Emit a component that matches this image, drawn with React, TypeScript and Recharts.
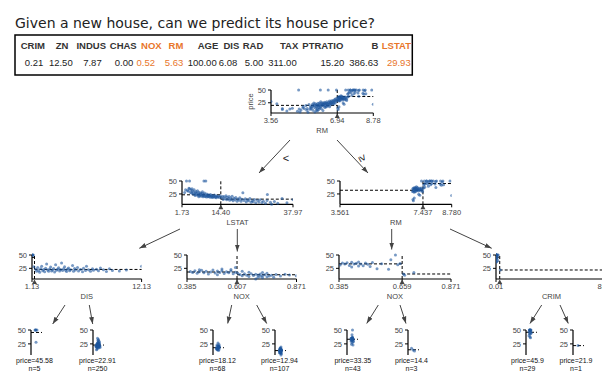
import React from 'react';
import { ScatterChart, Scatter, XAxis, YAxis, ReferenceLine, ReferenceDot } from 'recharts';

type Pt = [number, number];

// house we want to predict (header row + values)
const FEATURES = ['CRIM', 'ZN', 'INDUS', 'CHAS', 'NOX', 'RM', 'AGE', 'DIS', 'RAD', 'TAX', 'PTRATIO', 'B', 'LSTAT'];
const VALUES = ['0.21', '12.50', '7.87', '0.00', '0.52', '5.63', '100.00', '6.08', '5.00', '311.00', '15.20', '386.63', '29.93'];
const HIGHLIGHT = ['NOX', 'RM', 'LSTAT'];

// root: RM vs price, split at 6.94
const rmLow: Pt[] = [
  [3.56, 27.5], [3.86, 23.1], [4.14, 13.8], [4.14, 11.9], [4.37, 8.8], [4.52, 12.8], [4.65, 14.4], [4.91, 8.5],
  [4.97, 50], [5.0, 13.0], [5.04, 7.0], [5.09, 11.0], [5.19, 15.5], [5.27, 13.5], [5.34, 19.5], [5.39, 10.2],
  [5.41, 14.0], [5.45, 6.3], [5.5, 21.5], [5.57, 17.0], [5.6, 13.3], [5.63, 15.1], [5.65, 18.2], [5.68, 22.0],
  [5.7, 10.5], [5.72, 19.8], [5.76, 16.1], [5.79, 20.4], [5.8, 7.2], [5.83, 23.1], [5.85, 14.5], [5.87, 19.3],
  [5.89, 21.7], [5.9, 17.2], [5.93, 12.7], [5.95, 20.0], [5.96, 23.9], [5.99, 18.5], [6.0, 15.6], [6.02, 21.2],
  [6.04, 24.4], [6.06, 19.1], [6.08, 50], [6.1, 22.6], [6.12, 17.5], [6.13, 13.1], [6.15, 20.8], [6.17, 24.8],
  [6.19, 19.6], [6.2, 22.2], [6.21, 9.7], [6.23, 25.0], [6.25, 21.4], [6.27, 18.9], [6.29, 23.4], [6.31, 26.2],
  [6.33, 20.3], [6.35, 22.9], [6.37, 16.7], [6.39, 24.1], [6.41, 27.1], [6.43, 21.0], [6.45, 23.7], [6.47, 19.4],
  [6.48, 50], [6.5, 25.3], [6.52, 22.0], [6.54, 28.4], [6.56, 24.6], [6.58, 20.6], [6.6, 26.6], [6.62, 23.2],
  [6.64, 29.1], [6.66, 25.0], [6.68, 21.9], [6.7, 27.5], [6.72, 24.2], [6.74, 30.1], [6.76, 26.4], [6.78, 22.8],
  [6.8, 28.7], [6.82, 31.5], [6.84, 25.2], [6.86, 33.1], [6.88, 27.9], [6.9, 50], [6.92, 30.5], [5.2, 17.8],
  [5.55, 12.1], [5.88, 10.4], [6.05, 14.9], [6.3, 16.0], [6.1, 27.0], [5.75, 24.6], [6.4, 18.4], [6.55, 17.2],
  [6.0, 11.8], [5.93, 8.7],
];
const rmHigh: Pt[] = [
  [6.95, 29.6], [6.96, 34.9], [6.98, 31.2], [7.0, 36.4], [7.01, 33.0], [7.02, 28.4], [7.04, 35.4], [7.05, 30.1],
  [7.06, 37.3], [7.08, 33.8], [7.09, 29.0], [7.1, 36.0], [7.12, 32.4], [7.13, 38.7], [7.15, 34.9], [7.16, 31.7],
  [7.18, 37.6], [7.2, 33.2], [7.21, 35.2], [7.23, 30.5], [7.24, 24.5], [7.26, 32.9], [7.28, 36.1], [7.29, 22.3],
  [7.31, 33.4], [7.33, 31.1], [7.35, 36.5], [7.37, 50], [7.39, 34.6], [7.41, 32.0], [7.42, 29.4], [6.97, 14.2],
  [6.99, 12.0], [7.03, 17.0], [7.47, 42.3], [7.5, 50], [7.52, 43.5], [7.56, 46.0], [7.61, 50], [7.65, 44.8],
  [7.69, 48.3], [7.74, 50], [7.8, 42.8], [7.82, 50], [7.85, 45.4], [7.92, 50], [8.0, 44.0], [8.03, 48.8],
  [8.07, 50], [8.26, 50], [8.3, 41.7], [8.34, 48.3], [8.37, 50], [8.4, 42.8], [8.7, 50], [8.78, 21.9],
  [7.47, 36.5], [7.52, 37.9], [7.6, 50], [7.69, 39.8], [7.76, 50], [7.85, 50], [8.04, 37.6], [8.25, 43.8],
];
const rootPoints: Pt[] = [...rmLow, ...rmHigh];

// RM < 6.94: LSTAT vs price, split at 14.40
const lstatPoints: Pt[] = [
  [3.2, 50], [4.2, 50], [8.9, 50], [9.5, 50], [2.6, 27.9],
  [2.9, 33.0], [3.5, 31.6], [3.8, 30.1], [4.2, 34.9], [4.5, 28.0], [4.7, 32.4], [4.9, 26.6], [5.1, 30.8],
  [5.3, 25.0], [5.5, 28.7], [5.7, 33.2], [5.9, 24.4], [6.1, 27.1], [6.3, 29.8], [6.5, 23.1], [6.6, 26.4],
  [6.8, 31.0], [7.0, 22.6], [7.1, 25.3], [7.3, 28.2], [7.5, 21.7], [7.6, 24.5], [7.8, 27.0], [8.0, 20.6],
  [8.1, 23.3], [8.3, 25.9], [8.5, 22.0], [8.6, 19.4], [8.8, 24.3], [9.0, 21.2], [9.1, 26.7], [9.3, 20.0],
  [9.5, 22.8], [9.7, 18.9], [9.8, 24.7], [10.0, 21.5], [10.2, 19.6], [10.3, 23.4], [10.5, 20.3], [10.7, 22.1],
  [10.9, 18.5], [11.0, 24.0], [11.2, 20.8], [11.4, 19.3], [11.5, 22.6], [11.7, 17.9], [11.9, 21.0], [12.1, 19.8],
  [12.3, 23.1], [12.5, 18.4], [12.7, 20.6], [12.9, 17.5], [13.1, 21.7], [13.3, 19.1], [13.6, 20.2], [13.9, 18.0],
  [14.2, 21.4], [4.0, 36.0], [5.0, 35.2], [6.0, 22.0], [7.2, 19.8], [8.4, 29.0],
  [14.6, 17.8], [15.0, 20.1], [15.2, 14.5], [15.5, 19.4], [15.8, 16.2], [16.1, 21.7], [16.3, 13.6], [16.5, 18.6],
  [16.9, 15.6], [17.1, 19.9], [17.3, 12.7], [17.6, 17.0], [17.9, 14.3], [18.1, 20.4], [18.4, 11.8], [18.7, 16.6],
  [19.0, 13.9], [19.3, 18.2], [19.7, 10.9], [20.0, 15.2], [20.3, 13.1], [20.6, 17.8], [21.0, 11.0], [21.3, 14.6],
  [21.6, 27.5], [22.0, 12.5], [22.4, 15.6], [22.7, 9.5], [23.1, 13.4], [23.5, 11.7], [23.9, 16.1], [24.3, 8.8],
  [24.6, 12.0], [25.0, 10.4], [25.4, 14.1], [25.8, 7.9], [26.4, 12.6], [26.8, 9.6], [27.3, 13.8], [27.8, 8.4],
  [28.3, 10.9], [29.0, 7.2], [29.5, 12.3], [29.6, 23.7], [30.6, 8.8], [31.0, 5.0], [31.9, 10.2], [33.0, 7.0],
  [34.4, 16.0], [36.0, 8.1], [37.97, 13.8],
];

// RM < 6.94 & LSTAT < 14.40: DIS vs price
const disPoints: Pt[] = [
  [1.13, 50], [1.17, 50], [1.2, 50], [1.26, 50], [1.32, 27.9],
  [1.5, 23.1], [1.6, 19.6], [1.7, 26.4], [1.8, 21.0], [1.9, 17.8], [2.0, 24.3], [2.1, 28.7], [2.2, 20.5],
  [2.3, 22.6], [2.4, 18.7], [2.5, 25.0], [2.6, 33.0], [2.7, 21.7], [2.8, 19.3], [2.9, 23.9], [3.0, 27.5],
  [3.1, 20.1], [3.2, 22.0], [3.3, 24.8], [3.4, 18.2], [3.5, 31.6], [3.6, 21.4], [3.7, 23.3], [3.8, 26.2],
  [3.9, 19.9], [4.0, 22.9], [4.1, 35.1], [4.2, 20.8], [4.3, 24.1], [4.4, 28.1], [4.5, 21.2], [4.6, 18.9],
  [4.7, 23.6], [4.8, 25.5], [4.9, 20.3], [5.0, 22.4], [5.2, 30.1], [5.3, 19.4], [5.4, 24.6], [5.5, 21.8],
  [5.7, 26.7], [5.8, 20.0], [6.0, 23.0], [6.2, 18.5], [6.3, 25.2], [6.5, 21.1], [6.6, 29.0], [6.8, 22.2],
  [7.0, 19.7], [7.2, 24.4], [7.3, 21.5], [7.6, 23.5], [7.8, 20.6], [8.0, 25.8], [8.3, 22.5], [8.6, 19.0],
  [8.9, 24.0], [9.2, 21.0], [9.9, 20.2], [10.6, 21.9], [12.13, 29.1],
];

// RM < 6.94 & LSTAT >= 14.40: NOX vs price
const noxLowPoints: Pt[] = [
  [0.4, 19.0], [0.41, 17.4], [0.42, 20.3], [0.43, 15.6], [0.44, 18.8], [0.45, 21.4], [0.46, 16.9], [0.47, 19.5],
  [0.48, 14.4], [0.49, 18.1], [0.5, 21.7], [0.51, 16.2], [0.52, 19.9], [0.53, 17.3], [0.54, 20.6], [0.55, 15.1],
  [0.56, 18.5], [0.57, 16.8], [0.58, 20.0], [0.59, 14.9], [0.6, 17.6], [0.6, 26.5], [0.58, 22.8], [0.54, 23.7],
  [0.44, 22.5], [0.52, 13.1],
  [0.61, 16.1], [0.62, 13.4], [0.63, 10.9], [0.64, 14.8], [0.65, 12.2], [0.66, 9.6], [0.67, 15.0], [0.68, 11.7],
  [0.69, 13.9], [0.7, 8.4], [0.7, 12.7], [0.71, 10.2], [0.71, 14.4], [0.72, 7.2], [0.72, 11.3], [0.73, 13.1],
  [0.74, 9.0], [0.74, 15.6], [0.75, 10.5], [0.76, 12.0], [0.77, 8.1], [0.78, 13.6], [0.8, 10.8], [0.82, 14.1],
  [0.84, 12.3], [0.87, 11.0], [0.66, 17.8], [0.69, 5.0], [0.72, 17.2], [0.63, 19.6],
];

// 6.94 <= RM < 7.437: NOX vs price
const noxHighPoints: Pt[] = [
  [0.39, 31.2], [0.4, 34.9], [0.41, 33.0], [0.42, 35.4], [0.43, 30.1], [0.44, 36.2], [0.45, 32.9], [0.46, 34.6],
  [0.47, 37.0], [0.48, 33.1], [0.49, 29.8], [0.5, 35.2], [0.51, 32.5], [0.52, 28.6], [0.53, 36.0], [0.55, 24.4],
  [0.57, 33.8], [0.6, 23.1], [0.61, 41.3], [0.63, 50], [0.64, 31.5], [0.65, 34.2], [0.44, 27.5], [0.47, 29.4],
  [0.665, 14.2], [0.67, 12.0], [0.71, 17.0],
];

// RM >= 7.437: CRIM vs price
const crimPoints: Pt[] = [
  [0.02, 50], [0.03, 48.5], [0.05, 50], [0.06, 44.0], [0.08, 50], [0.1, 46.7], [0.12, 50], [0.15, 42.3],
  [0.2, 50], [0.3, 48.3], [0.4, 50], [0.52, 43.5], [0.6, 37.6], [0.75, 50], [1.0, 45.4], [1.2, 50],
  [1.5, 39.8], [1.8, 50], [0.04, 36.2], [0.09, 50], [3.47, 21.9],
];

// leaves: x = horizontal jitter inside the little strip
const LEAF_PRICE = [45.58, 22.91, 18.12, 12.94, 33.35, 14.4, 45.9, 21.9];
const LEAF_N = [5, 250, 68, 107, 43, 3, 29, 1];
const leafPoints: Pt[][] = [
  [[4, 50], [5, 50], [6, 50], [4.5, 50], [5, 27.9]],
  [[5, 23.1], [4, 19.6], [6, 26.4], [3.5, 21.0], [5.5, 17.8], [4.5, 24.3], [6.5, 28.7], [3, 20.5], [5, 22.6],
    [7, 18.7], [4, 25.0], [5.5, 33.0], [6, 21.7], [3.5, 19.3], [4.5, 23.9], [5, 27.5], [6.5, 20.1], [4, 22.0],
    [5.5, 24.8], [4.5, 18.2], [5, 31.6], [3, 21.4], [6, 23.3], [4.5, 26.2], [5.5, 19.9], [5, 22.9], [4.5, 35.1],
    [6, 20.8], [3.5, 24.1], [5, 28.1], [7, 21.2], [4, 16.0], [5.5, 23.6], [6, 25.5], [4.5, 20.3], [5, 22.4],
    [5.5, 30.1], [3.5, 14.4], [6.5, 24.6], [5, 21.8]],
  [[5, 19.0], [4, 17.4], [6, 20.3], [4.5, 15.6], [5.5, 18.8], [5, 21.4], [3.5, 16.9], [6.5, 19.5], [4, 14.4],
    [5, 18.1], [6, 21.7], [4.5, 16.2], [5.5, 19.9], [5, 17.3], [4, 20.6], [6, 15.1], [5, 18.5], [3.5, 16.8],
    [5.5, 20.0], [4.5, 14.9], [6, 17.6], [5, 26.5], [4, 22.8], [6, 23.7], [5.5, 13.1]],
  [[5.5, 16.1], [6, 13.4], [5, 10.9], [6.5, 14.8], [5.5, 12.2], [4.5, 9.6], [6, 15.0], [5, 11.7], [6.5, 13.9],
    [5.5, 8.4], [4.5, 12.7], [6, 10.2], [5, 14.4], [6.5, 7.2], [5.5, 11.3], [4.5, 13.1], [6, 9.0], [5, 15.6],
    [5.5, 10.5], [6.5, 12.0], [5, 8.1], [6, 13.6], [5.5, 10.8], [4.5, 14.1], [6, 12.3], [5, 11.0], [5.5, 17.8],
    [6, 5.0], [5, 17.2], [6, 19.6]],
  [[5, 31.2], [4.5, 34.9], [6, 33.0], [5.5, 35.4], [4, 30.1], [5, 36.2], [6, 32.9], [4.5, 34.6], [5.5, 37.0],
    [5, 33.1], [6.5, 29.8], [4, 35.2], [5, 32.5], [6, 28.6], [5.5, 36.0], [4.5, 24.4], [5, 33.8], [6, 23.1],
    [5, 41.3], [5.5, 50], [4.5, 31.5], [6, 34.2], [5, 27.5]],
  [[3.5, 17.0], [5, 14.2], [6.5, 12.0]],
  [[4, 50], [3.5, 50], [4.5, 50], [4, 48.5], [5, 44], [3, 46.7], [4, 42.3], [4.5, 48.3], [3.5, 43.5],
    [4, 37.6], [5, 45.4], [3, 39.8], [4.5, 36.2], [4, 50], [3.5, 50], [5, 50]],
  [[5, 21.9]],
];

const PRICE_DOMAIN: [number, number] = [5, 50];
const PRICE_TICKS = [25, 50];

const BLUE = '#1d559c';
const INK = '#444';
const TEXT = '#222';
const ORANGE = '#e8762b';
const FONT = '"Liberation Sans", Arial, sans-serif';

const Dot = (p: any) => <circle cx={p.cx} cy={p.cy} r={1.5} fill={BLUE} fillOpacity={0.6} />;
const Wedge = (p: any) => <path d={`M${p.cx},${p.cy + 0.5} l-2.5,4.5 h5 z`} fill={INK} />;

const toXY = (pts: Pt[]) => pts.map(([x, y]) => ({ x, y }));

const yAxisProps = {
  type: 'number' as const,
  dataKey: 'y',
  domain: PRICE_DOMAIN,
  ticks: PRICE_TICKS,
  interval: 0 as const,
  width: 26,
  tickSize: 3,
  tick: { fontSize: 7.5, fill: INK },
  axisLine: { stroke: '#000', strokeWidth: 1.2 },
  tickLine: { stroke: '#000' },
};

function SplitPanel(props: {
  ax: number; top: number; w: number; h: number; feature: string;
  domain: [number, number]; ticks: number[]; digits: number; split: number;
  means: [number, number]; points: Pt[];
}) {
  const { ax, top, w, h, feature, domain, ticks, digits, split, means, points } = props;
  const YW = 26, T = 4, R = 20, XH = 12, B = 14;
  return (
    <div style={{ position: 'absolute', left: ax - YW, top: top - T }}>
      <ScatterChart width={YW + w + R} height={T + h + XH + B} margin={{ top: T, right: R, bottom: B, left: 0 }}>
        <XAxis
          type="number"
          dataKey="x"
          domain={domain}
          ticks={ticks}
          interval={0}
          allowDataOverflow
          height={XH}
          tickSize={3}
          tickFormatter={(v: number) => v.toFixed(digits)}
          tick={{ fontSize: 7.5, fill: INK }}
          axisLine={{ stroke: '#000', strokeWidth: 1.2 }}
          tickLine={{ stroke: '#000' }}
          label={{ value: feature, position: 'bottom', offset: 3, fontSize: 7.5, fill: INK }}
        />
        <YAxis {...yAxisProps} />
        <Scatter data={toXY(points)} shape={Dot} isAnimationActive={false} />
        <ReferenceLine x={split} stroke="#000" strokeDasharray="3 2" />
        <ReferenceLine segment={[{ x: domain[0], y: means[0] }, { x: split, y: means[0] }]} stroke="#000" strokeDasharray="3 2" />
        <ReferenceLine segment={[{ x: split, y: means[1] }, { x: domain[1], y: means[1] }]} stroke="#000" strokeDasharray="3 2" />
        <ReferenceDot x={split} y={PRICE_DOMAIN[0]} r={0} shape={Wedge} ifOverflow="visible" />
      </ScatterChart>
    </div>
  );
}

function Leaf({ ax, points, mean }: { ax: number; points: Pt[]; mean: number }) {
  const YW = 26, T = 4, W = 14, H = 25, R = 2, B = 2;
  return (
    <div style={{ position: 'absolute', left: ax - YW, top: 330 - T }}>
      <ScatterChart width={YW + W + R} height={T + H + B} margin={{ top: T, right: R, bottom: B, left: 0 }}>
        <XAxis type="number" dataKey="x" domain={[0, 14]} hide />
        <YAxis {...yAxisProps} />
        <Scatter data={toXY(points)} shape={Dot} isAnimationActive={false} />
        <ReferenceLine segment={[{ x: 0, y: mean }, { x: 11, y: mean }]} stroke="#000" strokeDasharray="3 2" />
      </ScatterChart>
    </div>
  );
}

// table column right edges, leaf axis / label positions, arrows
const HEAD_RIGHT = [45, 68.3, 106, 136.7, 161.7, 183.3, 218.3, 239.3, 263.3, 298.3, 343.3, 378.3, 411];
const VAL_RIGHT = [43.3, 72.7, 101.7, 133.3, 155, 183.3, 216.7, 237.3, 263.3, 296.7, 344.3, 378.3, 410.7];
const LEAF_AX = [30.7, 92.7, 213.3, 275, 346.7, 408.3, 526, 573.3];
const LEAF_TEXT_X = [34.5, 97.5, 217.5, 279.5, 352.8, 411.5, 527.5, 576];
const ARROWS: [number, number, number, number][] = [
  [290, 140, 259, 173], [337, 140, 368, 173],
  [180, 229, 139.3, 248.3], [237.3, 229, 237.3, 251.5],
  [391.7, 229, 391.7, 249.5], [450, 229, 491.7, 248.3],
  [65, 305, 52.7, 324], [89.3, 305, 92.7, 324],
  [231.7, 305, 227.7, 323.5], [256.7, 305, 266.7, 323.5],
  [378.3, 305, 366.7, 323.5], [400, 305, 406, 323.5],
  [541.7, 305, 530, 323.5], [560, 305, 568.3, 323.5],
];

export default function App() {
  return (
    <div style={{ position: 'fixed', left: 0, top: 0, width: 602, height: 380, overflow: 'hidden', background: '#fff', fontFamily: FONT }}>
      <svg width={602} height={380} style={{ position: 'absolute', left: 0, top: 0 }}>
        <defs>
          <marker id="ah" viewBox="0 0 10 10" refX="10" refY="5" markerWidth="7" markerHeight="7" orient="auto">
            <path d="M0,1.5 L10,5 L0,8.5 z" fill={INK} />
          </marker>
        </defs>
        <text x={15} y={28} fontSize={14} fill={TEXT} fontFamily='"DejaVu Sans", sans-serif'>
          Given a new house, can we predict its house price?
        </text>
        <rect x={15} y={35} width={397.3} height={40} fill="none" stroke="#000" strokeWidth={1.5} />
        {FEATURES.map((f, i) => (
          <text key={f} x={HEAD_RIGHT[i]} y={49.3} textAnchor="end" fontSize={9.5} fontWeight="bold"
            fill={HIGHLIGHT.includes(f) ? ORANGE : '#333'}>{f}</text>
        ))}
        {VALUES.map((v, i) => (
          <text key={i} x={VAL_RIGHT[i]} y={65.5} textAnchor="end" fontSize={9.5}
            fill={HIGHLIGHT.includes(FEATURES[i]) ? ORANGE : TEXT}>{v}</text>
        ))}
        <text x={252.5} y={101.5} fontSize={7.5} fill={INK} textAnchor="middle" transform="rotate(-90 252.5 101.5)">price</text>
        {ARROWS.map(([x1, y1, x2, y2], i) => (
          <line key={i} x1={x1} y1={y1} x2={x2} y2={y2} stroke={INK} strokeWidth={1} markerEnd="url(#ah)" />
        ))}
        <text x={286} y={162} fontSize={11} fill={TEXT} textAnchor="middle">&lt;</text>
        <text x={363} y={162} fontSize={11} fill={TEXT} textAnchor="middle" transform="rotate(60 363 158)">≥</text>
      </svg>

      {LEAF_PRICE.map((p, i) => (
        <div key={i} style={{
          position: 'absolute', left: LEAF_TEXT_X[i] - 30, top: 357, width: 60, textAlign: 'center',
          fontSize: 7, lineHeight: '8px', color: '#111',
        }}>
          <div>{`price=${p}`}</div>
          <div>{`n=${LEAF_N[i]}`}</div>
        </div>
      ))}

      <SplitPanel ax={270.7} top={90} w={102.3} h={23} feature="RM" domain={[3.561, 8.78]}
        ticks={[3.561, 6.941, 8.78]} digits={2} split={6.941} means={[19.93, 37.24]} points={rootPoints} />

      <SplitPanel ax={182.3} top={181} w={111} h={23.3} feature="LSTAT" domain={[1.73, 37.97]}
        ticks={[1.73, 14.4, 37.97]} digits={2} split={14.4} means={[23.35, 14.95]} points={lstatPoints} />
      <SplitPanel ax={340} top={181} w={111.7} h={23.3} feature="RM" domain={[3.561, 8.78]}
        ticks={[3.561, 7.437, 8.78]} digits={3} split={7.437} means={[32.11, 45.1]} points={rmHigh} />

      <SplitPanel ax={31.7} top={255} w={109.6} h={24} feature="DIS" domain={[1.13, 12.13]}
        ticks={[1.13, 12.13]} digits={2} split={1.38} means={[45.58, 22.91]} points={disPoints} />
      <SplitPanel ax={187.3} top={255} w={109.5} h={24} feature="NOX" domain={[0.385, 0.871]}
        ticks={[0.385, 0.607, 0.871]} digits={3} split={0.607} means={[18.12, 12.94]} points={noxLowPoints} />
      <SplitPanel ax={339} top={255} w={112} h={24} feature="NOX" domain={[0.385, 0.871]}
        ticks={[0.385, 0.659, 0.871]} digits={3} split={0.659} means={[33.35, 14.4]} points={noxHighPoints} />
      <SplitPanel ax={495.7} top={255} w={111} h={24} feature="CRIM" domain={[0.01, 88.98]}
        ticks={[0.01, 88.98]} digits={2} split={3.0} means={[45.9, 21.9]} points={crimPoints} />

      {leafPoints.map((pts, i) => (
        <Leaf key={i} ax={LEAF_AX[i]} points={pts} mean={LEAF_PRICE[i]} />
      ))}
    </div>
  );
}
